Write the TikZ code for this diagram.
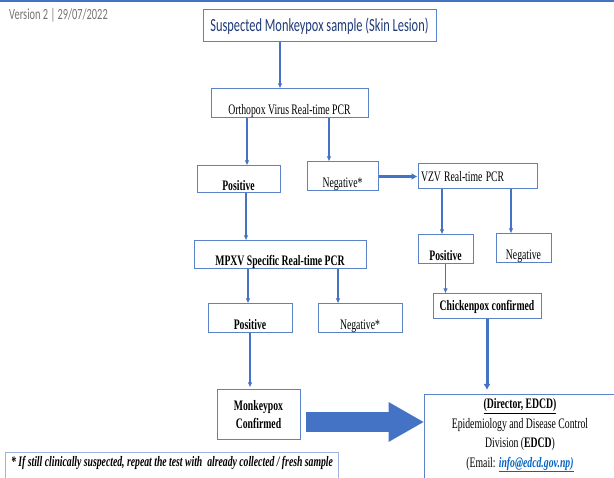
\documentclass[tikz,border=0pt]{standalone}
\usepackage{graphicx}
\usepackage{fontspec}
\setmainfont{Liberation Serif}
\newfontfamily\calibri{Carlito}
\usetikzlibrary{arrows.meta}
\definecolor{lineblue}{HTML}{4472C4}
\definecolor{boxblue}{HTML}{5B82C9}
\definecolor{titleblue}{HTML}{1F3A78}
\definecolor{noteblue}{HTML}{9DB6E0}
\definecolor{linkblue}{HTML}{0563C1}
\newcommand{\nar}[1]{\scalebox{0.67}[1]{#1}}
\tikzset{
  box/.style={draw=boxblue,line width=1pt,inner sep=2pt,font=\fontsize{14.5}{17}\selectfont},
  lowtext/.style={text height=21.5pt,text depth=0pt},
  flow/.style={->,>={Latex[length=5pt,width=4.5pt]},draw=lineblue,line width=1.6pt},
  thickflow/.style={->,>={Latex[length=6pt,width=7pt]},draw=lineblue,line width=3pt}
}
\begin{document}
\begin{tikzpicture}[x=1pt,y=-1pt]
\useasboundingbox (0,0) rectangle (614,478);
\clip (0,0) rectangle (614,478);
\draw[lineblue,line width=2pt] (0,1) -- (614,1);
\node[anchor=west,inner sep=0pt,font=\calibri\fontsize{15.5}{18}\selectfont,text=black!55] (version) at (9,15) {\nar{Version 2 | 29/07/2022}};

\node[box,minimum width=233,minimum height=32,font=\calibri\fontsize{18.5}{21}\selectfont,text=titleblue] (sample) at (319.5,26) {\nar{Suspected Monkeypox sample (Skin Lesion)}};
\node[box,lowtext,minimum width=157,minimum height=29] (ortho) at (289.5,103.5) {\nar{Orthopox Virus Real-time PCR}};
\node[box,lowtext,minimum width=83,minimum height=27] (opos) at (238.5,179.5) {\nar{\textbf{Positive}}};
\node[box,lowtext,minimum width=71,minimum height=29] (oneg) at (342.5,176.5) {\nar{Negative*}};
\node[box,text width=113,align=left,inner xsep=3pt,minimum height=25] (vzv) at (477.5,176.5) {\nar{VZV Real-time PCR}};
\node[box,lowtext,minimum width=172,minimum height=28] (mpxv) at (280,255) {\nar{\textbf{MPXV Specific Real-time PCR}}};
\node[box,lowtext,minimum width=55,minimum height=29] (vpos) at (445.5,249.5) {\nar{\textbf{Positive}}};
\node[box,lowtext,minimum width=55,minimum height=29] (vneg) at (523.5,248.5) {\nar{Negative}};
\node[box,minimum width=108,minimum height=25] (chicken) at (487,306.5) {\nar{\textbf{Chickenpox confirmed}}};
\node[box,lowtext,minimum width=84,minimum height=29] (mpos) at (250,318.5) {\nar{\textbf{Positive}}};
\node[box,lowtext,minimum width=84,minimum height=29] (mneg) at (360,318.5) {\nar{Negative*}};
\node[box,align=center,minimum width=83,minimum height=50,font=\fontsize{14.5}{18}\selectfont] (monkey) at (258.5,415) {\nar{\textbf{Monkeypox}}\\\nar{\textbf{Confirmed}}};
\node[box,anchor=north,align=center,minimum width=192,inner ysep=4pt,text depth=18pt,font=\fontsize{14.5}{19.5}\selectfont] (edcd) at (520,394)
  {\nar{\textbf{\underline{(Director, EDCD)}}}\\\nar{Epidemiology and Disease Control}\\\nar{Division (\textbf{EDCD})}\\\nar{(Email: \textcolor{linkblue}{\textbf{\textit{\underline{info@edcd.gov.np)}}}}}};
\node[box,draw=noteblue,anchor=north west,minimum width=333,inner ysep=4pt,text depth=12pt,font=\fontsize{14.5}{17}\selectfont] (note) at (5,452)
  {\nar{\textbf{\textit{* If still clinically suspected, repeat the test with\ \ already collected / fresh sample}}}};

\draw[flow] ([xshift=-39.5pt]sample.south) -- ([xshift=-39.5pt]sample.south |- ortho.north);
\draw[flow] ([xshift=8.5pt]opos.north |- ortho.south) -- ([xshift=8.5pt]opos.north);
\draw[flow] ([xshift=-13.5pt]oneg.north |- ortho.south) -- ([xshift=-13.5pt]oneg.north);
\draw[thickflow] (oneg.east) -- (vzv.west);
\draw[flow] ([xshift=7.5pt]opos.south) -- ([xshift=7.5pt]opos.south |- mpxv.north);
\draw[flow] ([xshift=-3.5pt]vpos.north |- vzv.south) -- ([xshift=-3.5pt]vpos.north);
\draw[flow] ([xshift=-12.5pt]vneg.north |- vzv.south) -- ([xshift=-12.5pt]vneg.north);
\draw[flow] ([xshift=-2pt]mpos.north |- mpxv.south) -- ([xshift=-2pt]mpos.north);
\draw[flow] ([xshift=-22pt]mneg.north |- mpxv.south) -- ([xshift=-22pt]mneg.north);
\draw[flow] (vpos.south) -- (vpos.south |- chicken.north);
\draw[thickflow,shorten >=4pt] (chicken.south) -- (chicken.south |- edcd.north);
\draw[flow,shorten >=2pt] (mpos.south) -- (mpos.south |- monkey.north);
\draw[lineblue,line width=20pt,-{Triangle[length=35pt,width=40pt,line width=0pt]}] ([xshift=5pt,yshift=-7pt]monkey.east) -- ([yshift=-7pt]monkey.east -| edcd.west);
\end{tikzpicture}
\end{document}
